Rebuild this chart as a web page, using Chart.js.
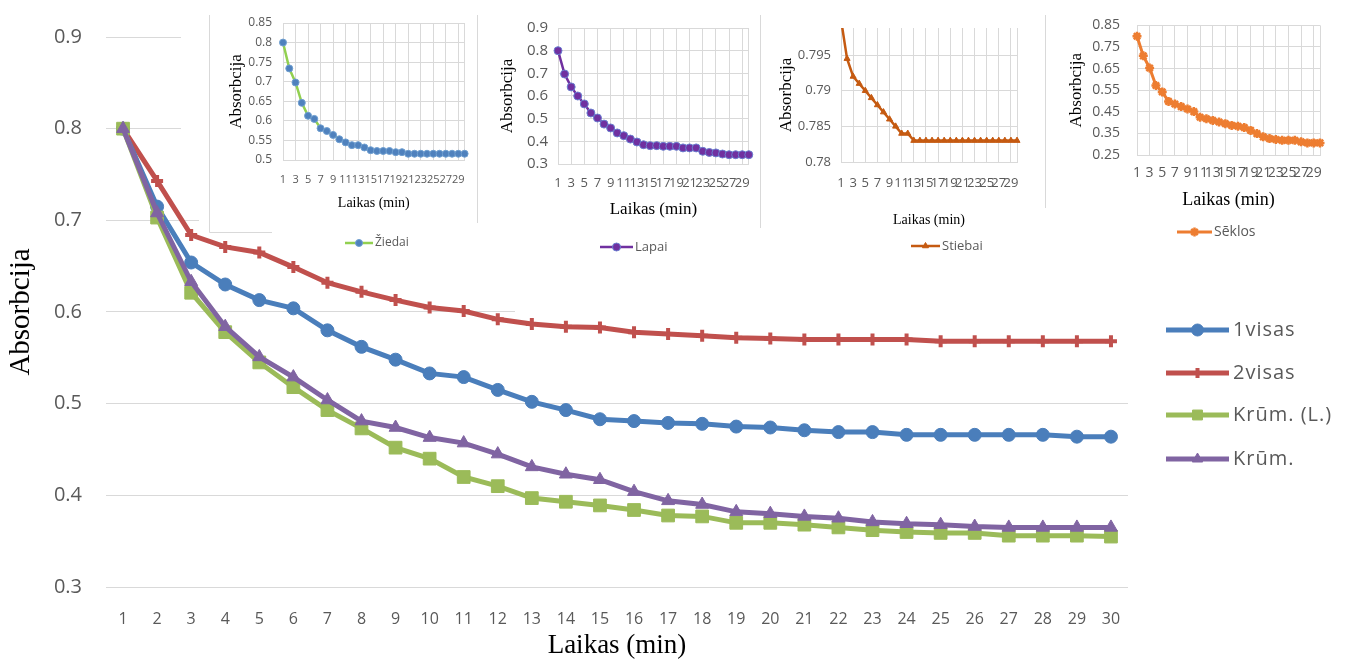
<!DOCTYPE html>
<html>
<head>
<meta charset="utf-8">
<script src="https://cdn.jsdelivr.net/npm/chart.js@4.4.1/dist/chart.umd.min.js"></script>
<style>
  body { margin: 0; background: #fff; }
  #wrap { position: relative; width: 1348px; height: 661px; }
  canvas { position: absolute; }
</style>
</head>
<body>
<div id="wrap">
  <canvas id="main" width="1348" height="661" style="left:0;top:0"></canvas>
  <canvas id="ziedai" width="269" height="262" style="left:209px;top:0"></canvas>
  <canvas id="lapai" width="282" height="262" style="left:478px;top:0"></canvas>
  <canvas id="stiebai" width="284" height="262" style="left:761px;top:0"></canvas>
  <canvas id="seklos" width="303" height="250" style="left:1045px;top:0"></canvas>
</div>
<script>
const minutes = ['1','2','3','4','5','6','7','8','9','10','11','12','13','14','15','16','17','18','19','20','21','22','23','24','25','26','27','28','29','30'];

// main chart
const visas1 = [0.800, 0.715, 0.654, 0.630, 0.613, 0.604, 0.580, 0.562, 0.548, 0.533, 0.529, 0.515, 0.502, 0.493, 0.483, 0.481, 0.479, 0.478, 0.475, 0.474, 0.471, 0.469, 0.469, 0.466, 0.466, 0.466, 0.466, 0.466, 0.464, 0.464];
const visas2 = [0.800, 0.743, 0.684, 0.671, 0.665, 0.649, 0.632, 0.622, 0.613, 0.605, 0.601, 0.592, 0.587, 0.584, 0.583, 0.578, 0.576, 0.574, 0.572, 0.571, 0.570, 0.570, 0.570, 0.570, 0.568, 0.568, 0.568, 0.568, 0.568, 0.568];
const krumL = [0.800, 0.703, 0.621, 0.578, 0.545, 0.518, 0.493, 0.473, 0.452, 0.440, 0.420, 0.410, 0.397, 0.393, 0.389, 0.384, 0.378, 0.377, 0.370, 0.370, 0.368, 0.365, 0.362, 0.360, 0.359, 0.359, 0.356, 0.356, 0.356, 0.355];
const krum = [0.800, 0.708, 0.633, 0.584, 0.551, 0.529, 0.504, 0.481, 0.474, 0.463, 0.457, 0.445, 0.431, 0.423, 0.417, 0.404, 0.394, 0.390, 0.382, 0.380, 0.377, 0.375, 0.371, 0.369, 0.368, 0.366, 0.365, 0.365, 0.365, 0.365];

// small charts
const ziedai = [0.800, 0.734, 0.698, 0.646, 0.613, 0.605, 0.581, 0.574, 0.564, 0.553, 0.545, 0.538, 0.538, 0.532, 0.525, 0.523, 0.523, 0.523, 0.520, 0.520, 0.516, 0.516, 0.516, 0.516, 0.516, 0.516, 0.516, 0.516, 0.516, 0.516];
const lapai = [0.800, 0.697, 0.640, 0.600, 0.565, 0.525, 0.503, 0.476, 0.459, 0.437, 0.425, 0.410, 0.397, 0.385, 0.381, 0.381, 0.378, 0.378, 0.378, 0.371, 0.371, 0.371, 0.356, 0.351, 0.349, 0.344, 0.341, 0.341, 0.341, 0.341];
const stiebai = [0.800, 0.7945, 0.792, 0.791, 0.790, 0.789, 0.788, 0.787, 0.786, 0.785, 0.784, 0.784, 0.783, 0.783, 0.783, 0.783, 0.783, 0.783, 0.783, 0.783, 0.783, 0.783, 0.783, 0.783, 0.783, 0.783, 0.783, 0.783, 0.783, 0.783];
const seklos = [0.800, 0.709, 0.653, 0.572, 0.542, 0.498, 0.486, 0.474, 0.463, 0.451, 0.425, 0.418, 0.410, 0.403, 0.395, 0.387, 0.383, 0.377, 0.364, 0.349, 0.334, 0.326, 0.322, 0.318, 0.318, 0.318, 0.311, 0.306, 0.306, 0.306];

const GRID = '#d9d9d9';
const TICK = '#595959';
const SANS = "'Open Sans', 'Liberation Sans', sans-serif";
const SERIF = "'Liberation Serif', 'DejaVu Serif', serif";

// legend drawn at fixed spots, using the dataset styles
const legendAt = {
  id: 'legendAt',
  afterDraw(chart, args, o) {
    if (!o || !o.ys) return;
    const ctx = chart.ctx;
    chart.data.datasets.forEach((ds, i) => {
      const y = o.ys[i];
      ctx.save();
      ctx.strokeStyle = ds.borderColor;
      ctx.lineWidth = o.lineWidth;
      ctx.beginPath();
      ctx.moveTo(o.x0, y);
      ctx.lineTo(o.x1, y);
      ctx.stroke();
      ctx.fillStyle = ds.pointBackgroundColor;
      ctx.strokeStyle = ds.pointBorderColor;
      ctx.lineWidth = ds.pointBorderWidth;
      Chart.helpers.drawPoint(ctx, {
        pointStyle: ds.pointStyle, rotation: 0,
        radius: o.radius[i], borderWidth: ds.pointBorderWidth
      }, (o.x0 + o.x1) / 2, y);
      ctx.fillStyle = TICK;
      ctx.font = o.font;
      ctx.letterSpacing = o.spacing || '0px';
      ctx.textBaseline = 'middle';
      ctx.fillText(ds.label, o.tx, y);
      ctx.restore();
    });
  }
};

// the small charts sit on the big one and hide its gridlines
const insetBacks = {
  id: 'insetBacks',
  beforeDatasetsDraw(chart) {
    const ctx = chart.ctx;
    ctx.save();
    ctx.fillStyle = '#fff';
    ctx.fillRect(181, 0, 1167, 205);
    ctx.fillRect(199, 205, 1149, 30);
    ctx.fillRect(515, 235, 833, 85);
    ctx.strokeStyle = GRID;
    ctx.lineWidth = 1;
    ctx.beginPath();
    ctx.moveTo(209.5, 15); ctx.lineTo(209.5, 232.5); ctx.lineTo(272, 232.5);
    ctx.moveTo(477.5, 15); ctx.lineTo(477.5, 223);
    ctx.moveTo(760.5, 15); ctx.lineTo(760.5, 228);
    ctx.moveTo(1045.5, 15); ctx.lineTo(1045.5, 208);
    ctx.stroke();
    ctx.restore();
  }
};

function series(label, data, color, style, radius, order) {
  return {
    label: label, data: data, order: order,
    borderColor: color, borderWidth: 5, tension: 0,
    pointStyle: style, pointRadius: radius,
    pointBackgroundColor: color, pointBorderColor: color,
    pointBorderWidth: style === 'cross' ? 4 : 1
  };
}

new Chart(document.getElementById('main'), {
  type: 'line',
  data: {
    labels: minutes,
    datasets: [
      series('1visas', visas1, '#4a7ebb', 'circle', 6.5, 2),
      series('2visas', visas2, '#c0504d', 'cross', 6, 3),
      series('Krūm. (L.)', krumL, '#9bbb59', 'rect', 9, 1),
      series('Krūm.', krum, '#8064a2', 'triangle', 7.5, 0)
    ]
  },
  options: {
    responsive: false,
    animation: false,
    layout: { padding: { left: 4, top: 37, right: 220, bottom: 0 } },
    plugins: {
      legend: { display: false },
      tooltip: { enabled: false },
      legendAt: {
        ys: [330, 373, 415, 459], x0: 1166, x1: 1229, tx: 1233,
        lineWidth: 5, radius: [6, 5, 7, 6], font: "20px " + SANS, spacing: '1px'
      }
    },
    scales: {
      x: {
        offset: true,
        grid: { display: false },
        border: { display: false },
        ticks: { autoSkip: false, maxRotation: 0, padding: 15, color: TICK, font: { family: SANS, size: 16 } },
        title: { display: true, text: 'Laikas (min)', color: '#000', padding: 0, font: { family: SERIF, size: 27, lineHeight: 1.1 } },
        afterFit: s => { s.height = 74; }
      },
      y: {
        min: 0.3, max: 0.9,
        grid: { color: GRID, drawTicks: false },
        border: { display: false },
        ticks: { stepSize: 0.1, padding: 24, color: TICK, font: { family: SANS, size: 20 } },
        title: { display: true, text: 'Absorbcija', color: '#000', padding: 0, font: { family: SERIF, size: 29, lineHeight: 1.2 } },
        afterFit: s => { s.width = 102; }
      }
    }
  },
  plugins: [insetBacks, legendAt]
});

function inset(id, c) {
  return new Chart(document.getElementById(id), {
    type: 'line',
    data: {
      labels: minutes,
      datasets: [{
        label: c.label, data: c.data, tension: 0,
        borderColor: c.color, borderWidth: c.lw,
        pointStyle: c.ps, pointRadius: c.pr,
        pointBackgroundColor: c.pbg, pointBorderColor: c.pbc, pointBorderWidth: c.pbw
      }]
    },
    options: {
      responsive: false,
      animation: false,
      layout: { padding: c.pad },
      plugins: {
        legend: { display: false },
        tooltip: { enabled: false },
        legendAt: c.legend
      },
      scales: {
        x: {
          grid: { color: g => (g.index % 2 === 0 || g.index === 29) ? GRID : 'rgba(0,0,0,0)', drawTicks: false },
          border: { color: GRID },
          ticks: {
            autoSkip: false, maxRotation: 0, padding: c.xtp, color: TICK,
            font: { family: SANS, size: c.xfs },
            callback: (v, i) => i % 2 === 0 ? minutes[i] : ''
          },
          title: { display: true, text: 'Laikas (min)', color: '#000', padding: 0, font: { family: SERIF, size: c.xtfs } },
          afterFit: s => { s.height = c.xh; }
        },
        y: {
          min: c.min, max: c.max,
          grid: { color: GRID, drawTicks: false },
          border: { color: GRID },
          ticks: {
            stepSize: c.step, padding: c.ytp, color: TICK,
            font: { family: SANS, size: c.yfs },
            callback: v => String(+v.toFixed(4))
          },
          title: { display: true, text: 'Absorbcija', color: '#000', padding: 0, font: { family: SERIF, size: c.ytfs } },
          afterFit: s => { s.width = c.yw; },
          afterBuildTicks: s => {
            s.ticks = s.ticks.filter(t => {
              const k = (t.value - c.min) / c.step;
              return Math.abs(k - Math.round(k)) < 1e-6;
            });
          }
        }
      }
    },
    plugins: [legendAt]
  });
}

inset('ziedai', {
  label: 'Žiedai', data: ziedai, color: '#92d050', lw: 2.5,
  ps: 'circle', pr: 3.5, pbg: '#4f81bd', pbc: '#6f9fd0', pbw: 1,
  pad: { left: 17.8, top: 23, right: 7, bottom: 50.6 }, yw: 56.2, xh: 51.4,
  xtp: 13.4, ytp: 11, xfs: 11, yfs: 12, xtfs: 14, ytfs: 17,
  min: 0.5, max: 0.85, step: 0.05,
  legend: { ys: [243], x0: 136, x1: 164, tx: 166, lineWidth: 2.5, radius: [3.5], font: "12px " + SANS }
});

inset('lapai', {
  label: 'Lapai', data: lapai, color: '#7030a0', lw: 2.5,
  ps: 'circle', pr: 4, pbg: '#7030a0', pbc: '#6a7fd0', pbw: 1,
  pad: { left: 19.8, top: 28, right: 10, bottom: 41.8 }, yw: 60.2, xh: 56.2,
  xtp: 11.2, ytp: 10, xfs: 13, yfs: 15, xtfs: 17, ytfs: 17,
  min: 0.3, max: 0.9, step: 0.1,
  legend: { ys: [247], x0: 122, x1: 155, tx: 157, lineWidth: 2.5, radius: [4], font: "13px " + SANS }
});

inset('stiebai', {
  label: 'Stiebai', data: stiebai, color: '#c55a11', lw: 2.5,
  ps: 'triangle', pr: 3.5, pbg: '#c55a11', pbc: '#c55a11', pbw: 1,
  pad: { left: 15.8, top: 28, right: 28, bottom: 33.6 }, yw: 64.2, xh: 66.4,
  xtp: 13.2, ytp: 10, xfs: 13, yfs: 13, xtfs: 14, ytfs: 17,
  min: 0.78, max: 0.7988, step: 0.005,
  legend: { ys: [246], x0: 150, x1: 179, tx: 181, lineWidth: 2.5, radius: [3.5], font: "13px " + SANS }
});

inset('seklos', {
  label: 'Sēklos', data: seklos, color: '#ed7d31', lw: 3,
  ps: 'star', pr: 4.5, pbg: '#ed7d31', pbc: '#ed7d31', pbw: 2.5,
  pad: { left: 21.8, top: 23, right: 28, bottom: 39.2 }, yw: 70.2, xh: 55.8,
  xtp: 9.6, ytp: 17, xfs: 14, yfs: 14, xtfs: 18, ytfs: 17,
  min: 0.25, max: 0.85, step: 0.1,
  legend: { ys: [232], x0: 132, x1: 167, tx: 169, lineWidth: 3, radius: [4.5], font: "14px " + SANS }
});
</script>
</body>
</html>
